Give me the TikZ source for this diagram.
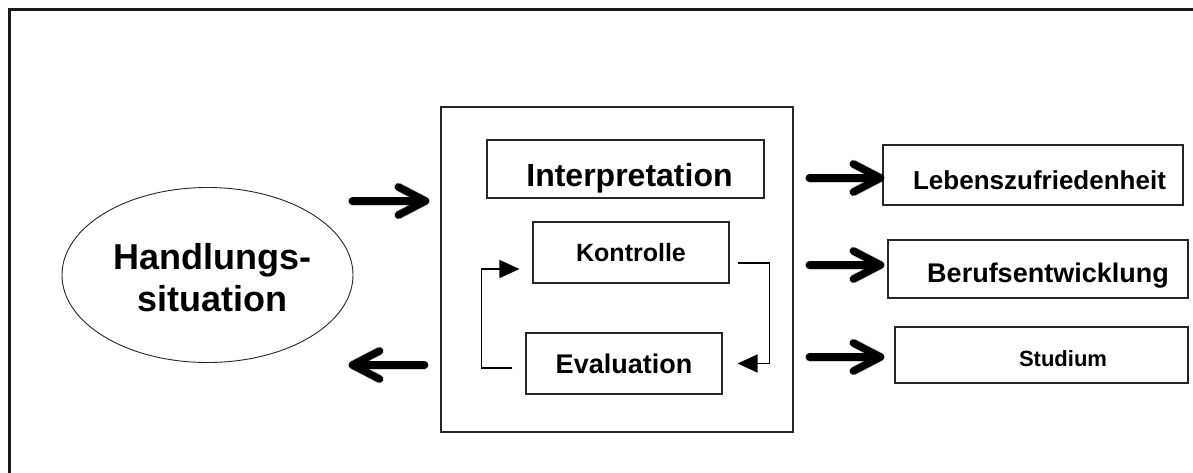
\documentclass[tikz,border=0pt]{standalone}
\usepackage{fontspec}
\setmainfont{Liberation Sans}
\usetikzlibrary{arrows.meta,calc,shapes.geometric}

% thick open-headed arrow with a soft shadow; #1 tail, #2 tip, #3 = 1 (right) or -1 (left)
\newcommand\fatarrow[3]{%
  \begin{scope}[shift={(2,3)}]
    \draw[fatshadow] (#1) -- ([shift={(-3*#3,0)}]#2);
    \draw[fatshadow] ([shift={(-28*#3,-14)}]#2) -- ([shift={(-1*#3,0)}]#2) -- ([shift={(-28*#3,14)}]#2);
  \end{scope}
  \draw[fat] (#1) -- ([shift={(-3*#3,0)}]#2);
  \draw[fat] ([shift={(-28*#3,-14)}]#2) -- ([shift={(-1*#3,0)}]#2) -- ([shift={(-28*#3,14)}]#2);
}

\begin{document}
\begin{tikzpicture}[x=1pt,y=-1pt,
  box/.style={draw=black!85, line width=1.1pt, inner sep=0pt},
  lbl/.style={font=\fontsize{#1}{#1}\selectfont\bfseries},
  % baseline lowered below the optical centre of the box
  low/.style={text height=#1, text depth=0pt},
  fat/.style={line width=7.5pt, line cap=round, line join=round, black},
  fatshadow/.style={line width=9pt, line cap=round, line join=round, black, opacity=0.18},
  loopline/.style={line width=1.4pt, black, -{Triangle[length=20pt,width=18pt]}}]

\useasboundingbox (0,0) rectangle (1193,472);
\begin{scope}
  \clip (0,0) rectangle (1193,472);
  % outer frame, open beyond the right and bottom edges
  \draw[line width=3pt, black!90] (9.5,480) -- (9.5,9.5) -- (1200,9.5);
\end{scope}

% situation
\node[ellipse, draw=black!85, line width=0.9pt, minimum width=291pt, minimum height=175pt,
      inner sep=0pt] (hs) at (207.5,275) {};
\node[align=center, font=\fontsize{36}{42}\selectfont\bfseries] (hstext) at (212,278)
      {Handlungs-\\situation};

% central process box
\node[box, minimum width=352pt, minimum height=325pt] (proc) at (617,269.5) {};
\node[box, lbl=32, low=35pt, minimum width=277pt, minimum height=58pt]
      (interp) at (625.5,169) {\hspace*{8pt}Interpretation};
\node[box, lbl=25, minimum width=196pt, minimum height=61pt]
      (kon) at (631,252.5) {Kontrolle};
\node[box, lbl=27, minimum width=196pt, minimum height=61pt]
      (eva) at (624,363.5) {Evaluation};

% control loop
\draw[loopline] ([shift={(8,10.5)}]kon.east) -- ++(32,0) |- ([shift={(15,0)}]eva.east);
\draw[loopline] ([shift={(-13,4.5)}]eva.west) -- ++(-31,0) |- ([shift={(-13,16.5)}]kon.west);

% outcomes
\node[box, lbl=26, low=29pt, minimum width=300pt, minimum height=60pt]
      (leb) at (1033,175) {\hspace*{13pt}Lebenszufriedenheit};
\node[box, lbl=27, low=26pt, minimum width=300pt, minimum height=58pt]
      (ber) at (1038,269) {\hspace*{20pt}Berufsentwicklung};
\node[box, lbl=22, low=22pt, minimum width=293pt, minimum height=56pt]
      (stu) at (1041.5,355) {\hspace*{43pt}Studium};

% thick arrows
\coordinate (inTip)  at ([shift={(-14,-68.5)}]proc.west);
\coordinate (inTail) at ([shift={(-88,-68.5)}]proc.west);
\coordinate (outTail) at ([shift={(-16,95.5)}]proc.west);
\coordinate (outTip)  at ([shift={(-89,95.5)}]proc.west);
\fatarrow{inTail}{inTip}{1}
\fatarrow{outTail}{outTip}{-1}

\coordinate (r1Tip) at ([shift={(-1,3)}]leb.west);
\coordinate (r1Tail) at ([shift={(-73,3)}]leb.west);
\coordinate (r2Tip) at ([shift={(-6,-4)}]ber.west);
\coordinate (r2Tail) at ([shift={(-78,-4)}]ber.west);
\coordinate (r3Tip) at ([shift={(-13,2)}]stu.west);
\coordinate (r3Tail) at ([shift={(-85,2)}]stu.west);
\fatarrow{r1Tail}{r1Tip}{1}
\fatarrow{r2Tail}{r2Tip}{1}
\fatarrow{r3Tail}{r3Tip}{1}

\end{tikzpicture}
\end{document}
